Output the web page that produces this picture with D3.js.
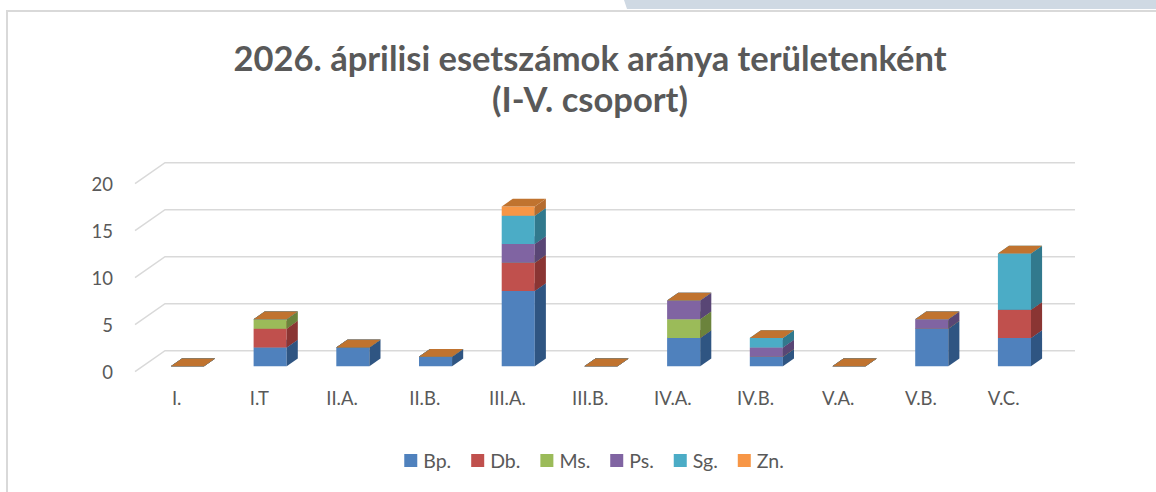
<!DOCTYPE html>
<html>
<head>
<meta charset="utf-8">
<script src="https://cdn.jsdelivr.net/npm/d3@7"></script>
<style>
  body { margin: 0; background: #fff; }
  svg { display: block; }
</style>
</head>
<body>
<svg id="chart" width="1156" height="492"></svg>
<script>
// category data
const categories = ["I.", "I.T", "II.A.", "II.B.", "III.A.", "III.B.", "IV.A.", "IV.B.", "V.A.", "V.B.", "V.C."];
const seriesNames = ["Bp.", "Db.", "Ms.", "Ps.", "Sg.", "Zn."];
const bp = [0, 2, 2, 1, 8, 0, 3, 1, 0, 4, 3];
const db = [0, 2, 0, 0, 3, 0, 0, 0, 0, 0, 3];
const ms = [0, 1, 0, 0, 0, 0, 2, 0, 0, 0, 0];
const ps = [0, 0, 0, 0, 2, 0, 2, 1, 0, 1, 0];
const sg = [0, 0, 0, 0, 3, 0, 0, 1, 0, 0, 6];
const zn = [0, 0, 0, 0, 1, 0, 0, 0, 0, 0, 0];
const yTicks = [0, 5, 10, 15, 20];

const frontColors = ["#4f81bd", "#c0504d", "#9bbb59", "#8064a2", "#4bacc6", "#f79646"];
const sideColors = ["#2f5582", "#8a3533", "#6b833c", "#594675", "#31798d", "#b56c2f"];
const topColors = ["#3f6aa0", "#a8433f", "#84a04a", "#6c548a", "#3e93aa", "#c0732f"];

const font = "Lato, 'Open Sans', sans-serif";
const textColor = "#595959";

let svg = d3.select("#chart");

// frame
svg.append("path")
  .attr("d", "M624,0 L1156,0 L1156,9 L627,9 Z")
  .attr("fill", "#cfd9e3");
svg.append("path")
  .attr("d", "M7,492 L7,11 L1156,11")
  .attr("fill", "none")
  .attr("stroke", "#d9d9d9")
  .attr("stroke-width", 2);

// title
let title = svg.append("text")
  .attr("text-anchor", "middle")
  .attr("font-family", font)
  .attr("font-weight", "bold")
  .attr("font-size", 34.5)
  .attr("fill", textColor);
title.append("tspan").attr("x", 590).attr("y", 71).text("2026. áprilisi esetszámok aránya területenként");
title.append("tspan").attr("x", 590).attr("y", 112).text("(I-V. csoport)");

// 3d projection: depth z in [0,1], front plane z = 0
let depthX = 30, depthY = -21;
let wallLeft = 135, wallRight = 1045;

let xScale = d3.scaleBand()
  .domain(categories)
  .range([138.3, 1048]);

let yScale = d3.scaleLinear()
  .domain([0, 20])
  .range([371.7, 183.7]);

function pt(x, v, z) {
  return [x + z * depthX, yScale(v) + z * depthY];
}

// gridlines on side and back walls
let grid = svg.append("g")
  .attr("fill", "none")
  .attr("stroke", "#d9d9d9")
  .attr("stroke-width", 1.5);
yTicks.forEach(function (t) {
  let a = pt(wallLeft, t, 0), b = pt(wallLeft, t, 1), c = pt(wallRight, t, 1);
  grid.append("polyline").attr("points", [a, b, c].map(p => p.join(",")).join(" "));
});

// y labels
svg.append("g")
  .selectAll("text")
  .data(yTicks)
  .enter().append("text")
  .attr("x", 113)
  .attr("y", d => yScale(d) + 7)
  .attr("text-anchor", "end")
  .attr("font-family", font)
  .attr("font-size", 18.5)
  .attr("fill", textColor)
  .text(d => d);

// stacked bars
let table = categories.map(function (c, i) {
  return {cat: c, "Bp.": bp[i], "Db.": db[i], "Ms.": ms[i], "Ps.": ps[i], "Sg.": sg[i], "Zn.": zn[i]};
});
let stacked = d3.stack().keys(seriesNames)(table);

let barW = xScale.bandwidth() * 0.4;
let zFront = 0.26, zBack = 0.63;

function poly(points) {
  return points.map(p => p.join(",")).join(" ");
}

let bars = svg.append("g");
categories.forEach(function (c, i) {
  let cx = xScale(c) + xScale.bandwidth() / 2;
  let xl = cx - barW / 2, xr = cx + barW / 2;
  stacked.forEach(function (s, k) {
    let v0 = s[i][0], v1 = s[i][1];
    if (v1 > v0) {
      bars.append("polygon")
        .attr("points", poly([pt(xl, v0, zFront), pt(xr, v0, zFront), pt(xr, v1, zFront), pt(xl, v1, zFront)]))
        .attr("fill", frontColors[k]);
      bars.append("polygon")
        .attr("points", poly([pt(xr, v0, zFront), pt(xr, v0, zBack), pt(xr, v1, zBack), pt(xr, v1, zFront)]))
        .attr("fill", sideColors[k]);
    }
    bars.append("polygon")
      .attr("points", poly([pt(xl, v1, zFront), pt(xr, v1, zFront), pt(xr, v1, zBack), pt(xl, v1, zBack)]))
      .attr("fill", topColors[k]);
  });
});

// category labels
svg.append("g")
  .selectAll("text")
  .data(categories)
  .enter().append("text")
  .attr("x", d => xScale(d) + xScale.bandwidth() / 2 - 3)
  .attr("y", 405)
  .attr("text-anchor", "middle")
  .attr("font-family", font)
  .attr("font-size", 18.5)
  .attr("fill", textColor)
  .text(d => d);

// legend
let legend = svg.append("g");
let lx = 0;
seriesNames.forEach(function (name, k) {
  let g = legend.append("g").attr("transform", "translate(" + lx + ",0)");
  g.append("rect")
    .attr("x", 0).attr("y", 454)
    .attr("width", 13).attr("height", 13)
    .attr("fill", frontColors[k]);
  let t = g.append("text")
    .attr("x", 19).attr("y", 468)
    .attr("font-family", font)
    .attr("font-size", 19.5)
    .attr("fill", textColor)
    .text(name);
  lx += 19 + t.node().getComputedTextLength() + 20;
});
let legendW = lx - 20;
legend.attr("transform", "translate(" + (594 - legendW / 2) + ",0)");
</script>
</body>
</html>
